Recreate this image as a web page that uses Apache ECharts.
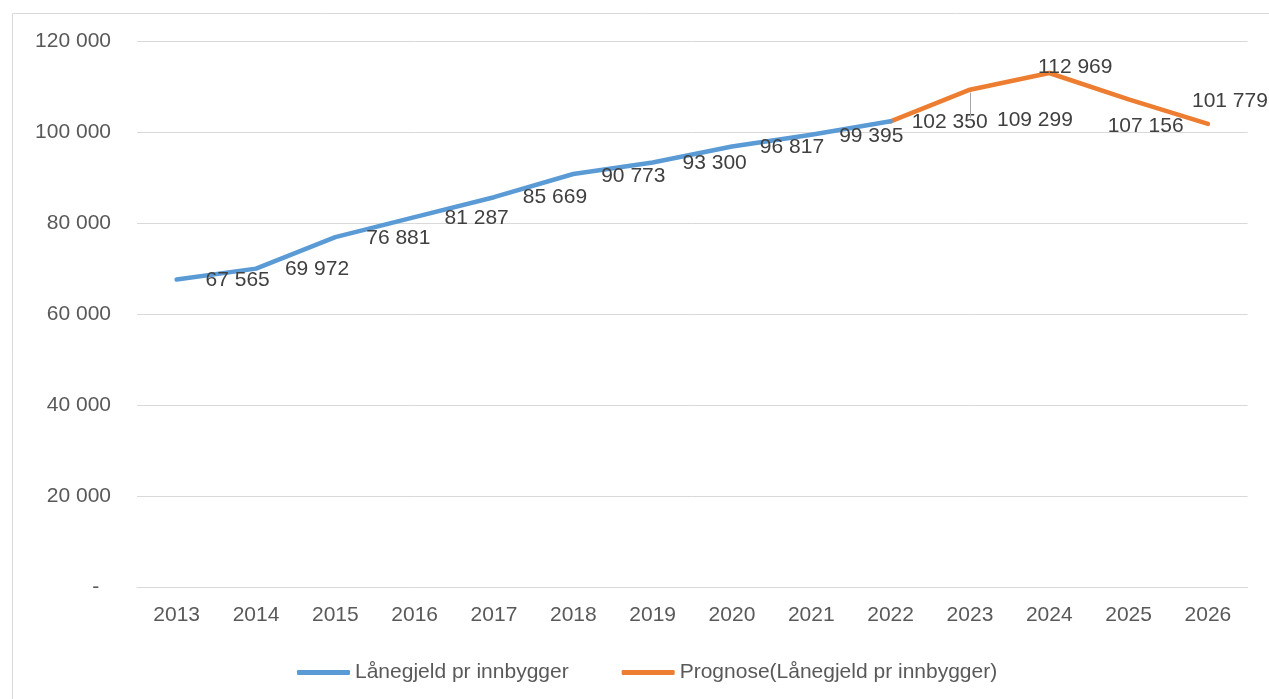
<!DOCTYPE html>
<html>
<head>
<meta charset="utf-8">
<script src="https://cdn.jsdelivr.net/npm/echarts@6/dist/echarts.min.js"></script>
<style>
html,body{margin:0;padding:0;background:#fff;}
#chart{width:1269px;height:699px;}
</style>
</head>
<body>
<div id="chart"></div>
<script>
const years = ['2013','2014','2015','2016','2017','2018','2019','2020','2021','2022','2023','2024','2025','2026'];
const actualName = 'Lånegjeld pr innbygger';
const forecastName = 'Prognose(Lånegjeld pr innbygger)';
// actual values 2013–2022
const actual = [67565, 69972, 76881, 81287, 85669, 90773, 93300, 96817, 99395, 102350];
// forecast values 2022–2026
const forecast = [102350, 109299, 112969, 107156, 101779];
const yMin = 0, yMax = 120000, yStep = 20000;

// label placement (pixel offsets from the point), styling only
const labelOffsets = [[61,1],[61,1],[63,1],[62,1],[61,0],[60,2],[62,1],[60,1],[60,1],[59,1],[65,31],[26,-6],[17,27],[22,-23]];

const FONT = 'Liberation Sans';
const fmt = v => String(v).replace(/\B(?=(\d{3})+(?!\d))/g, ' ');

const firstForecast = years.length - forecast.length;
const actualData = years.map((y, i) => {
  if (i >= actual.length) return null;
  return { value: actual[i], label: { offset: labelOffsets[i] } };
});
const forecastData = years.map((y, i) => {
  if (i < firstForecast) return null;
  const v = forecast[i - firstForecast];
  if (i === firstForecast) return { value: v, label: { show: false } };
  return { value: v, label: { offset: labelOffsets[i] } };
});

const labelCfg = {
  show: true,
  position: 'inside',
  align: 'center',
  verticalAlign: 'middle',
  fontFamily: FONT,
  fontSize: 21,
  color: '#404040',
  formatter: p => fmt(p.value)
};

const chart = echarts.init(document.getElementById('chart'), null, { renderer: 'canvas' });
chart.setOption({
  animation: false,
  backgroundColor: '#ffffff',
  graphic: [{
    type: 'rect',
    shape: { x: 12.5, y: 13.5, width: 1400, height: 900 },
    style: { fill: 'none', stroke: '#d9d9d9', lineWidth: 1 },
    silent: true
  }],
  grid: { left: 137, right: 21.4, top: 41, bottom: 112, containLabel: false },
  legend: {
    left: 292,
    top: 657,
    icon: 'roundRect',
    itemWidth: 53,
    itemHeight: 5,
    itemGap: 53,
    selectedMode: false,
    textStyle: { fontFamily: FONT, fontSize: 21, color: '#595959' },
    data: [actualName, forecastName]
  },
  xAxis: {
    type: 'category',
    data: years,
    boundaryGap: true,
    axisLine: { show: true, lineStyle: { color: '#d9d9d9', width: 1 } },
    axisTick: { show: false },
    axisLabel: { fontFamily: FONT, fontSize: 21, color: '#595959', margin: 18 },
    splitLine: { show: false }
  },
  yAxis: {
    type: 'value',
    min: yMin,
    max: yMax,
    interval: yStep,
    axisLine: { show: false },
    axisTick: { show: false },
    axisLabel: {
      fontFamily: FONT, fontSize: 21, color: '#595959', margin: 26,
      formatter: v => v === 0 ? '-  ' : fmt(v)
    },
    splitLine: { show: true, lineStyle: { color: '#d9d9d9', width: 1 } }
  },
  series: [
    {
      name: actualName,
      type: 'line',
      data: actualData,
      symbol: 'circle',
      symbolSize: 1,
      showSymbol: true,
      color: '#5B9BD5',
      itemStyle: { color: '#5B9BD5' },
      lineStyle: { color: '#5B9BD5', width: 4.5, cap: 'round', join: 'round' },
      label: labelCfg,
      emphasis: { disabled: true },
      z: 3
    },
    {
      name: forecastName,
      type: 'line',
      data: forecastData,
      symbol: 'circle',
      symbolSize: 1,
      showSymbol: true,
      color: '#ED7D31',
      itemStyle: { color: '#ED7D31' },
      lineStyle: { color: '#ED7D31', width: 4.5, cap: 'round', join: 'round' },
      label: labelCfg,
      emphasis: { disabled: true },
      markLine: {
        silent: true,
        symbol: 'none',
        label: { show: false },
        lineStyle: { color: '#a6a6a6', width: 1, type: 'solid' },
        data: [[
          { xAxis: years[firstForecast + 1], yAxis: forecast[1] - 600 },
          { xAxis: years[firstForecast + 1], yAxis: forecast[1] - 6200 }
        ]]
      },
      z: 2
    }
  ]
});
</script>
</body>
</html>
